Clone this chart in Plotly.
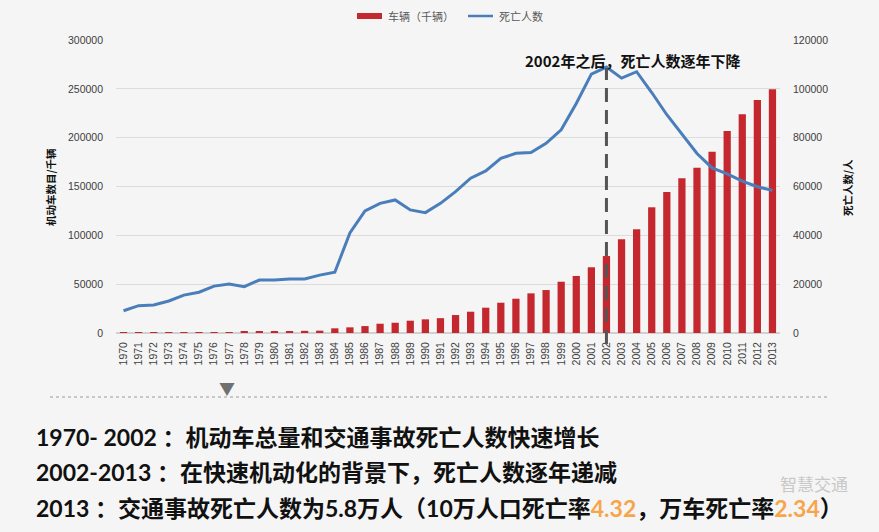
import plotly.graph_objects as go

years = list(range(1970, 2014))
vehicles = [500, 550, 600, 650, 700, 750, 800, 850, 1300, 1400, 1500, 1600, 2200, 2400,
            4800, 5800, 7100, 9500, 10500, 12600, 14000, 15200, 18400, 21800, 25900,
            31000, 35100, 40600, 44000, 52500, 58400, 67300, 78800, 95900, 106200,
            128700, 144400, 158400, 169300, 185700, 206800, 223900, 238600, 249500]
deaths = [9100, 11200, 11500, 13100, 15500, 16700, 19200, 20100, 19000, 21700, 21700,
          22100, 22100, 23700, 24900, 41000, 50000, 53100, 54500, 50400, 49300, 53100,
          57900, 63400, 66400, 71500, 73600, 73900, 77700, 83200, 94000, 106000,
          108900, 104400, 107000, 98500, 89400, 81500, 73500, 67600, 65200, 62200,
          59900, 58400]

bar_name = "车辆（千辆）"
line_name = "死亡人数"
left_title = "机动车数目/千辆"
right_title = "死亡人数/人"
note = "2002年之后，死亡人数逐年下降"
lines = [
    "1970- 2002 ：机动车总量和交通事故死亡人数快速增长",
    "2002-2013 ：在快速机动化的背景下，死亡人数逐年递减",
    "2013 ：交通事故死亡人数为5.8万人（10万人口死亡率<span style='color:#f7a54a'>4.32</span>，万车死亡率<span style='color:#f7a54a'>2.34</span>）",
]

W, H = 879, 532
L, R, T, B = 116, 780, 40, 333

def px(x):
    return (x - L) / (R - L)

def py(y):
    return (B - y) / (B - T)

tickfont = dict(size=10.5, color="#404040", family="Liberation Sans, Arial")

fig = go.Figure()
fig.add_trace(go.Bar(x=years, y=vehicles, name=bar_name, showlegend=False,
                     marker=dict(color="#c4282e", line=dict(width=0)), yaxis="y"))
fig.add_trace(go.Scatter(x=years, y=deaths, name=line_name, mode="lines", showlegend=False,
                         line=dict(color="#4a7ebb", width=3), yaxis="y2"))

fig.update_layout(
    width=W, height=H,
    margin=dict(l=L, r=W - R, t=T, b=H - B, autoexpand=False),
    paper_bgcolor="#f5f5f5", plot_bgcolor="#f5f5f5",
    font=dict(family="Noto Sans CJK SC, sans-serif", size=10, color="#404040"),
    bargap=0.52,
    showlegend=False,
    xaxis=dict(range=[1969.5, 2013.5], tickmode="array", tickvals=years,
               ticktext=[str(y) for y in years], tickangle=-90, showgrid=False,
               zeroline=False, showline=False, ticks="", ticklabelstandoff=6,
               tickfont=tickfont),
    yaxis=dict(range=[0, 300000], dtick=50000, tickformat="d", showgrid=True,
               gridcolor="#dcdcdc", gridwidth=1, zeroline=True, zerolinecolor="#d0d0d0",
               showline=False, ticks="", ticklabelstandoff=12, tickfont=tickfont),
    yaxis2=dict(range=[0, 120000], dtick=20000, tickformat="d", overlaying="y",
                side="right", showgrid=False, zeroline=False, showline=False, ticks="",
                ticklabelstandoff=12, tickfont=tickfont),
)

# legend drawn manually (wide bar swatch like the reference)
fig.add_shape(type="rect", xref="paper", yref="paper", x0=px(357), x1=px(382),
              y0=py(19), y1=py(13), fillcolor="#c4282e", line=dict(width=0))
fig.add_shape(type="line", xref="paper", yref="paper", x0=px(468), x1=px(493),
              y0=py(16), y1=py(16), line=dict(color="#4a7ebb", width=2.5))

# dashed vertical marker at 2002
fig.add_shape(type="line", xref="x", yref="paper", x0=2002, x1=2002,
              y0=py(344), y1=py(68), line=dict(color="#555555", width=3, dash="14px,8px"))

# dotted separator
fig.add_shape(type="line", xref="paper", yref="paper", x0=px(50), x1=px(827),
              y0=py(397), y1=py(397), line=dict(color="#9a9a9a", width=1, dash="dot"))

ann = []
ann.append(dict(text=bar_name, x=px(386), y=py(16), xref="paper", yref="paper",
                showarrow=False, xanchor="left", yanchor="middle",
                font=dict(size=11, color="#595959")))
ann.append(dict(text=line_name, x=px(497), y=py(16), xref="paper", yref="paper",
                showarrow=False, xanchor="left", yanchor="middle",
                font=dict(size=11, color="#595959")))
ann.append(dict(text="<b>" + note + "</b>", x=px(632), y=py(61), xref="paper", yref="paper",
                showarrow=False, xanchor="center", yanchor="middle",
                font=dict(size=15, color="#111111", family="Noto Sans CJK SC")))
ann.append(dict(text="<b>" + left_title + "</b>", x=px(50), y=py(187), xref="paper",
                yref="paper", showarrow=False, textangle=-90, xanchor="center",
                yanchor="middle", font=dict(size=10.5, color="#111111")))
ann.append(dict(text="<b>" + right_title + "</b>", x=px(847), y=py(188), xref="paper",
                yref="paper", showarrow=False, textangle=-90, xanchor="center",
                yanchor="middle", font=dict(size=10.5, color="#111111")))
ann.append(dict(text="▼", x=px(227), y=py(388), xref="paper", yref="paper",
                showarrow=False, xanchor="center", yanchor="middle",
                font=dict(size=16, color="#707070")))
for i, t in enumerate(lines):
    ann.append(dict(text="<b>" + t + "</b>", x=px(34), y=py(437 + 35.5 * i), xref="paper",
                    yref="paper", showarrow=False, xanchor="left", yanchor="middle",
                    font=dict(size=23, color="#111111",
                              family="Lato, Noto Sans CJK SC, sans-serif")))
ann.append(dict(text="智慧交通", x=px(814), y=py(484), xref="paper", yref="paper",
                showarrow=False, xanchor="center", yanchor="middle",
                font=dict(size=17, color="#c8c8c8", family="Noto Sans CJK SC")))
fig.update_layout(annotations=ann)

fig.write_html("out.html")
